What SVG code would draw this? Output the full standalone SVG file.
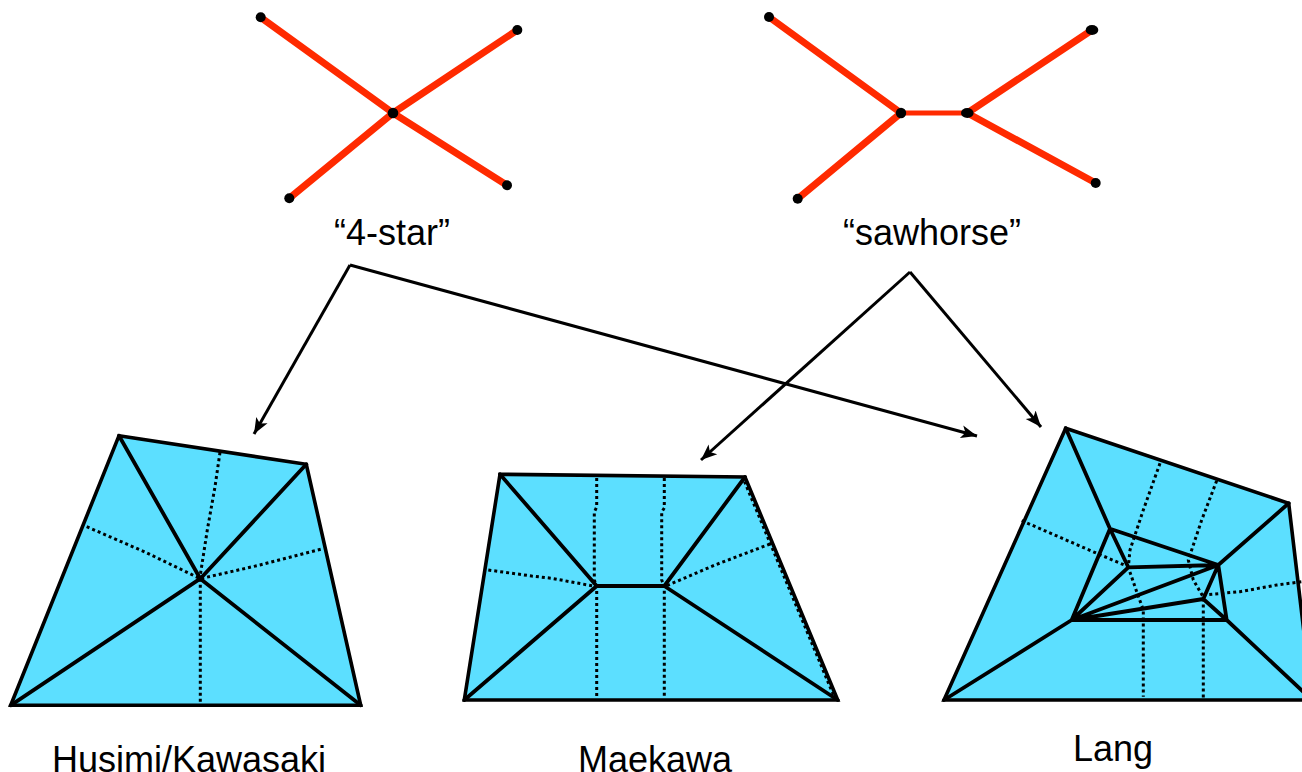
<svg xmlns="http://www.w3.org/2000/svg" width="1302" height="772" viewBox="0 0 1302 772">
<style>
.red{stroke:#ff2a00;stroke-width:7;fill:none}
.dot{fill:#000}
.face{fill:#5cdfff;stroke:#000;stroke-width:3.6;stroke-linejoin:miter}
.crease{stroke:#000;stroke-width:3.8;fill:none;stroke-linecap:round;stroke-linejoin:round}
.dash{stroke:#000;stroke-width:3;fill:none;stroke-dasharray:3 3}
.arrow{stroke:#000;stroke-width:3;fill:none}
.label{font-family:"Liberation Sans",Arial,sans-serif;font-size:36px;fill:#000;text-anchor:middle}
</style>
<defs>
<marker id="head" markerUnits="userSpaceOnUse" markerWidth="20" markerHeight="16" refX="16" refY="8" orient="auto">
<path d="M0,1.5 L16,8 L0,14.5 L4,8 Z" fill="#000"/>
</marker>
</defs>

<g id="four-star">
<path class="red" d="M260.7,17.3 L393,113 M517.3,30 L393,113 M289.3,198.3 L393,113 M507,185.3 L393,113"/>
<circle class="dot" cx="260.7" cy="17.3" r="5"/>
<circle class="dot" cx="517.3" cy="30" r="5"/>
<circle class="dot" cx="393" cy="113" r="5.3"/>
<circle class="dot" cx="289.3" cy="198.3" r="5"/>
<circle class="dot" cx="507" cy="185.3" r="5"/>
<text class="label" x="392" y="245">“4-star”</text>
</g>

<g id="sawhorse">
<path class="red" d="M769,17 L901,113 M1092,30 L967.3,113 M797.7,198.7 L901,113 M1095.7,183 L967.3,113"/>
<path class="red" style="stroke-width:5" d="M901,113 L967.3,113"/>
<circle class="dot" cx="769" cy="17" r="5"/>
<ellipse class="dot" cx="1092" cy="30" rx="6.3" ry="5"/>
<circle class="dot" cx="901" cy="113" r="5.2"/>
<ellipse class="dot" cx="967.3" cy="113" rx="6.3" ry="5"/>
<circle class="dot" cx="797.7" cy="198.7" r="5"/>
<circle class="dot" cx="1095.7" cy="183" r="5"/>
<text class="label" x="932" y="245">“sawhorse”</text>
</g>

<g id="husimi-kawasaki">
<path class="face" d="M119,435.7 L306.3,464.3 L360.7,705.3 L10.7,705.3 Z"/>
<path class="dash" d="M220,452.3 L215,486.7 L207.3,530 L200.3,575"/>
<path class="dash" d="M86.7,526.7 L145,552 L200.3,578.7"/>
<path class="dash" d="M320.7,549.3 L260,565 L200.3,578.7"/>
<path class="dash" d="M200.3,578.7 L200.3,703"/>
<path class="crease" d="M119,435.7 L200.3,578.7 L306.3,464.3 M10.7,705.3 L200.3,578.7 L360.7,705.3"/>
<text class="label" x="189" y="771.5">Husimi/Kawasaki</text>
</g>

<g id="maekawa">
<path class="face" d="M500,474.3 L745,477 L837.7,700 L464.3,700 Z"/>
<path class="dash" d="M596.7,478 L596.7,507 L594.3,512 L594.3,580 L596.7,586.7 L596.7,698"/>
<path class="dash" d="M664.3,478 L664.3,508 L661.7,512 L661.7,580 L664.3,586 L664.3,697"/>
<path class="dash" d="M488.3,570 L531.7,576 L551.7,578.3 L596,586.5"/>
<path class="dash" d="M770,544 L715,565 L666,586"/>
<path class="dash" d="M746,481 L836,697" transform="translate(-1.5,0.5)"/>
<path class="crease" d="M500,474.3 L596.7,586 L664.3,586 L745,477 M464.3,700 L596.7,586 M664.3,586 L837.7,700"/>
<text class="label" x="655" y="771.5">Maekawa</text>
</g>

<g id="lang">
<path class="face" d="M1065.7,428.3 L1288.7,503.3 L1312,700 L944,700 Z"/>
<path class="dash" d="M1021.7,520.7 L1096.7,553.3 L1126.7,566"/>
<path class="dash" d="M1160,463.3 L1143.3,510 L1130,550 L1128.3,567.3 L1136.7,591.7 L1143.3,610 L1143.3,696.7"/>
<path class="dash" d="M1216.7,480.7 L1201.7,520 L1188.3,560 L1193.3,580 L1203.3,597 L1203.3,698"/>
<path class="dash" d="M1203.3,595 L1240,591.7 L1276.7,585 L1302,581.7"/>
<path class="crease" d="M1065.7,428.3 L1110,528.7 L1218.3,565 L1288.7,503.3 M1110,528.7 L1128.3,567.3 L1218.3,565 L1203.3,599 L1071.7,620 L1226.7,620 L1218.3,565 L1071.7,620 L1128.3,567.3 M1110,528.7 L1071.7,620 L944,700 M1203.3,599 L1226.7,620 L1312,700"/>
<text class="label" x="1113" y="761">Lang</text>
</g>

<g id="connectors">
<path class="arrow" marker-end="url(#head)" d="M350,265 L254,434"/>
<path class="arrow" marker-end="url(#head)" d="M350,265 L977,436"/>
<path class="arrow" marker-end="url(#head)" d="M910,272 L701,460"/>
<path class="arrow" marker-end="url(#head)" d="M910,272 L1041,427"/>
</g>
</svg>
